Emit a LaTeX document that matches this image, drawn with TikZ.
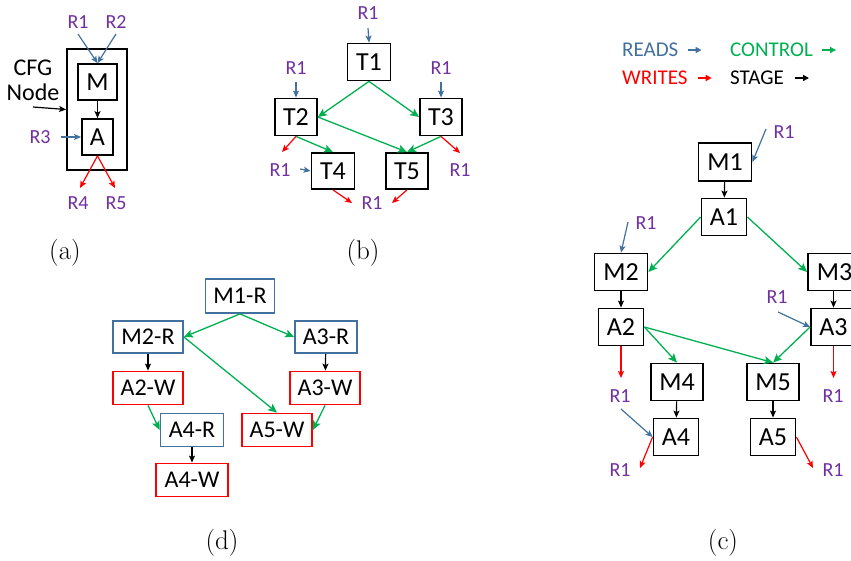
\documentclass[tikz,border=0pt]{standalone}
\usepackage{fontspec}
\newfontfamily\calfont{Carlito}
\usetikzlibrary{arrows.meta}
\definecolor{rblue}{HTML}{41719C}
\definecolor{cgreen}{HTML}{00B050}
\definecolor{wred}{HTML}{FF0000}
\definecolor{lpurp}{HTML}{7030A0}
\begin{document}
\begin{tikzpicture}[x=1pt,y=-1pt,
  box/.style={draw,line width=1.8pt,inner sep=0pt,minimum height=37pt,font=\calfont\fontsize{26}{26}\selectfont},
  dbox/.style={draw,line width=1.8pt,inner sep=0pt,minimum height=33pt,font=\calfont\fontsize{24}{24}\selectfont},
  bluebox/.style={dbox,draw=rblue},
  redbox/.style={dbox,draw=wred},
  lbl/.style={text=lpurp,inner sep=1pt,font=\calfont\fontsize{20}{20}\selectfont},
  leg/.style={anchor=west,inner sep=0pt,font=\calfont\fontsize{21}{21}\selectfont},
  captxt/.style={font=\fontsize{27}{30}\selectfont},
  rd/.style={draw=rblue,line width=1.2pt,-{Stealth[length=7pt,width=6pt,inset=1.5pt]}},
  wr/.style={draw=wred,line width=1.2pt,-{Stealth[length=7pt,width=6pt,inset=1.5pt]}},
  ct/.style={draw=cgreen,line width=1.3pt,-{Stealth[length=9pt,width=8pt,inset=2pt]}},
  st/.style={draw=black,line width=1.2pt,-{Stealth[length=7pt,width=6pt,inset=1.5pt]}}]
\useasboundingbox (0,0) rectangle (851,560);

% ---------- (a) ----------
\node[draw,line width=1.8pt,minimum width=60pt,minimum height=121pt,inner sep=0pt] (cfg) at (97,109.5) {};
\node[box,minimum width=39pt,minimum height=36pt] (am) at (97.5,82) {M};
\node[box,minimum width=31pt,minimum height=36pt] (aa) at (97.5,137) {A};
\node[lbl] (ar1) at (78,22) {R1};
\node[lbl] (ar2) at (116,22) {R2};
\node[lbl] (ar3) at (40,137) {R3};
\node[lbl] (ar4) at (78,203) {R4};
\node[lbl] (ar5) at (116,203) {R5};
\node[align=center,inner sep=0pt,font=\calfont\fontsize{24}{25}\selectfont] (cfgl) at (33,80) {CFG\\Node};
\coordinate (cfgs) at (33,107);
\draw[st] (cfgs) -- (cfg.west);
\coordinate (ar1s) at (78,34);
\coordinate (ar2s) at (116,34);
\draw[rd] (ar1s) -- (am.north);
\draw[rd] (ar2s) -- (am.north);
\draw[st] (am) -- (aa);
\draw[rd,shorten <=9pt] (ar3.east) -- (aa.west);
\coordinate (ar4e) at (80,188);
\coordinate (ar5e) at (115,188);
\draw[wr] (aa.south) -- (ar4e);
\draw[wr] (aa.south) -- (ar5e);
\node[captxt] (capa) at (65,253) {(a)};

% ---------- (b) ----------
\node[box,minimum width=43pt] (t1) at (369,62) {T1};
\node[box,minimum width=42pt] (t2) at (296,117) {T2};
\node[box,minimum width=42pt] (t3) at (441,117) {T3};
\node[box,minimum width=43pt,minimum height=36pt] (t4) at (333,171) {T4};
\node[box,minimum width=42pt,minimum height=36pt] (t5) at (407,171) {T5};
\node[lbl] (br1) at (368,13) {R1};
\node[lbl] (br2) at (296,68) {R1};
\node[lbl] (br3) at (441,68) {R1};
\node[lbl] (br4) at (280,170) {R1};
\node[lbl] (br5) at (372,203) {R1};
\node[lbl] (br6) at (460,170) {R1};
\coordinate (b1s) at (368,28);
\coordinate (b2s) at (296,82);
\coordinate (b3s) at (441,82);
\coordinate (b4s) at (300,169);
\draw[rd] (b1s) -- (t1.north);
\draw[rd] (b2s) -- (t2.north);
\draw[rd] (b3s) -- (t3.north);
\draw[rd] (b4s) -- (t4.west);
\draw[ct] (t1.south) -- (t2.east);
\draw[ct] (t1.south) -- (t3.west);
\draw[ct] (t2.east) -- (t5.north);
\draw[ct] (t3.south) -- (t5.north);
\draw[ct] (t2.south) -- (t4.north);
\coordinate (b2e) at (282,152);
\coordinate (b3e) at (460,153);
\coordinate (b4e) at (352,203);
\coordinate (b5e) at (392,203);
\draw[wr] (t2.south) -- (b2e);
\draw[wr] (t3.south) -- (b3e);
\draw[wr] (t4.south) -- (b4e);
\draw[wr] (t5.south) -- (b5e);
\node[captxt] (capb) at (363,253) {(b)};

% ---------- legend ----------
\node[leg,text=rblue] (lread) at (622,50) {READS};
\node[leg,text=cgreen] (lctrl) at (730,50) {CONTROL};
\node[leg,text=wred] (lwrite) at (622,78) {WRITES};
\node[leg] (lstage) at (730,78) {STAGE};
\draw[rd,line width=1.5pt,-{Triangle[length=6pt,width=6pt]}] (lread.east) ++(9,0) -- ++(14,0);
\draw[ct,line width=1.2pt,-{Triangle[length=6pt,width=6pt]}] (lctrl.east) ++(9,0) -- ++(14,0);
\draw[wr,line width=1.5pt,-{Triangle[length=6pt,width=6pt]}] (lwrite.east) ++(10,0) -- ++(14,0);
\draw[st,line width=1.5pt,-{Triangle[length=6pt,width=6pt]}] (lstage.east) ++(11,0) -- ++(14,0);

% ---------- (c) ----------
\node[box,minimum width=53pt,minimum height=38pt] (m1) at (725,162) {M1};
\node[box,minimum width=45pt] (a1) at (724,217) {A1};
\node[box,minimum width=53pt] (m2) at (621,272) {M2};
\node[box,minimum width=53pt] (m3) at (834.5,272) {M3};
\node[box,minimum width=45pt] (a2) at (621,327) {A2};
\node[box,minimum width=45pt] (a3) at (833.5,327) {A3};
\node[box,minimum width=52pt] (m4) at (677,382) {M4};
\node[box,minimum width=52pt] (m5) at (773,382) {M5};
\node[box,minimum width=45pt] (a4) at (676,437) {A4};
\node[box,minimum width=45pt] (a5) at (773,437) {A5};
\node[lbl] (cr1) at (784,132) {R1};
\node[lbl] (cr2) at (646,223) {R1};
\node[lbl] (cr3) at (777,297) {R1};
\node[lbl] (cr4) at (620,396) {R1};
\node[lbl] (cr5) at (833,396) {R1};
\node[lbl] (cr6) at (620,470) {R1};
\node[lbl] (cr7) at (833,470) {R1};
\coordinate (c1s) at (766,129);
\coordinate (c2s) at (628,222);
\coordinate (c3s) at (778,312);
\coordinate (c4s) at (621,409);
\draw[rd] (c1s) -- (m1.east);
\draw[rd] (c2s) -- (m2.north);
\draw[rd] (c3s) -- (a3.west);
\draw[rd] (c4s) -- (a4.west);
\draw[st] (m1) -- (a1);
\draw[st] (m2) -- (a2);
\draw[st] (m3.south -| a3.north) -- (a3.north);
\draw[st] (m4) -- (a4);
\draw[st] (m5) -- (a5);
\draw[ct] (a1.west) -- (m2.east);
\draw[ct] (a1.east) -- (m3.west);
\draw[ct] (a2.east) -- (m4.north);
\draw[ct] (a2.east) -- (m5.north);
\draw[ct] (a3.west) -- (m5.north);
\coordinate (c2e) at (621,378);
\coordinate (c3e) at (833.5,378);
\coordinate (c4e) at (640,468);
\coordinate (c5e) at (813,468);
\draw[wr] (a2.south) -- (c2e);
\draw[wr] (a3.south) -- (c3e);
\draw[wr] (a4.west) -- (c4e);
\draw[wr] (a5.east) -- (c5e);
\node[captxt] (capc) at (723,543) {(c)};

% ---------- (d) ----------
\node[bluebox,minimum width=69pt,minimum height=34pt] (dm1) at (240,296) {M1-R};
\node[bluebox,minimum width=70pt,minimum height=32pt] (dm2) at (148,337) {M2-R};
\node[bluebox,minimum width=62pt,minimum height=32pt] (da3r) at (326,337) {A3-R};
\node[redbox,minimum width=70pt] (da2w) at (148,388) {A2-W};
\node[redbox,minimum width=70pt] (da3w) at (325,388) {A3-W};
\node[bluebox,minimum width=63pt] (da4r) at (192,430) {A4-R};
\node[redbox,minimum width=70pt] (da5w) at (277,430) {A5-W};
\node[redbox,minimum width=72pt] (da4w) at (192,480) {A4-W};
\draw[ct] (dm1.south) -- (dm2.east);
\draw[ct] (dm1.south) -- (da3r.west);
\draw[ct] (dm2.east) -- (da5w.north);
\draw[ct] (da2w.south) -- (da4r.west);
\draw[ct] (da3w.south) -- (da5w.east);
\draw[st] (dm2) -- (da2w);
\draw[st] (da3r) -- (da3w);
\draw[st] (da4r) -- (da4w);
\node[captxt] (capd) at (222,543) {(d)};
\end{tikzpicture}
\end{document}
